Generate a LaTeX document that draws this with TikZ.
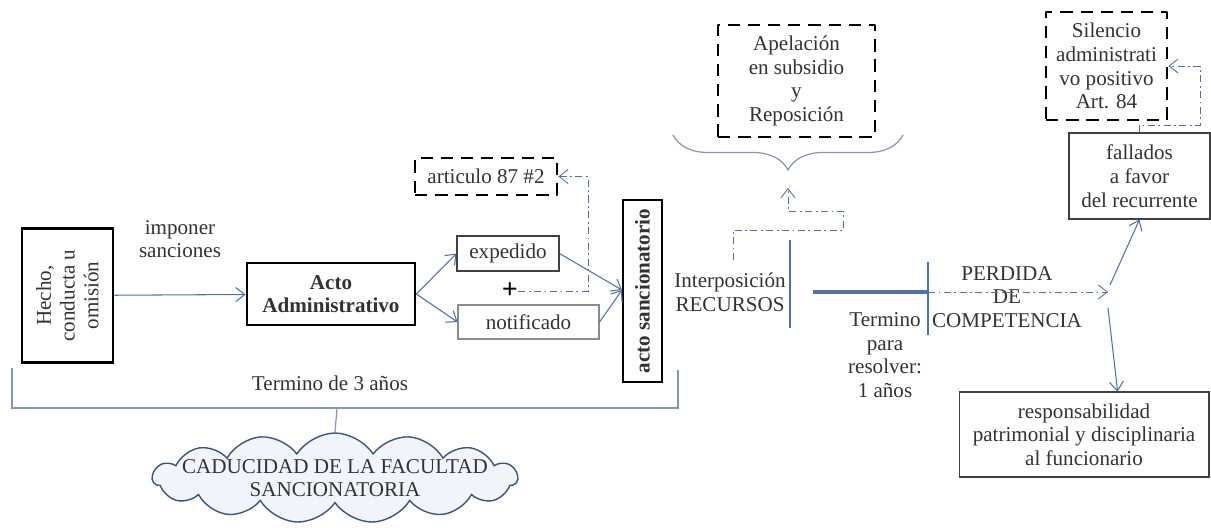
\documentclass[tikz,border=0pt]{standalone}
\usepackage{fontspec}
\setmainfont{LiberationSerif}[Extension=.ttf, UprightFont=*-Regular, BoldFont=*-Bold, ItalicFont=*-Italic, BoldItalicFont=*-BoldItalic]
\usetikzlibrary{arrows.meta,shapes.symbols,decorations.pathreplacing}

\definecolor{linea}{RGB}{84,112,160}
\definecolor{lineagris}{RGB}{135,150,180}
\definecolor{textogris}{RGB}{50,50,50}
\definecolor{nube}{RGB}{241,245,251}
\definecolor{nubeborde}{RGB}{60,85,125}

\def\ds{0.02}
\def\pkt#1#2{({(#1)*\ds},{-(#2)*\ds})}

\begin{document}
\begin{tikzpicture}[>={Straight Barb[length=1.8mm,width=2.8mm]},
  font=\fontsize{12}{13.5}\selectfont, text=textogris,
  caja/.style={draw=black!75, line width=0.6pt, align=center, inner sep=1pt},
  gruesa/.style={draw=black, line width=1.6pt, align=center, inner sep=1pt},
  rayada/.style={draw=black, line width=1.6pt, line join=round, dash pattern=on 7pt off 4.5pt, align=center, inner sep=1pt},
  flecha/.style={draw=linea, line width=0.6pt, ->},
  punteada/.style={draw=linea, line width=0.5pt, dash pattern=on 4pt off 2pt on 1pt off 2pt},
  texto/.style={align=center, inner sep=0pt}]

\useasboundingbox \pkt{0}{0} rectangle \pkt{1211}{527};

% cajas de la izquierda
\node[gruesa, rotate=90, minimum width=2.68cm, minimum height=1.82cm] (hecho) at \pkt{67.5}{295.5} {Hecho,\\conducta u\\omisión};
\node[gruesa, minimum width=3.36cm, minimum height=1.24cm, font=\fontsize{12}{13.5}\selectfont\bfseries] (acto) at \pkt{331}{294} {Acto\\Administrativo};
\node[caja, minimum width=2.04cm, minimum height=0.70cm] (expedido) at \pkt{508}{253.5} {expedido};
\node[caja, draw=black!45, minimum width=2.82cm, minimum height=0.68cm] (notificado) at \pkt{528.5}{322} {notificado};
\node[rayada, minimum width=2.84cm, minimum height=0.74cm] (articulo) at \pkt{486}{176.5} {articulo 87 \#2};
\node[gruesa, rotate=90, minimum width=3.64cm, minimum height=0.78cm, font=\fontsize{12}{13.5}\selectfont\bfseries] (sancion) at \pkt{642.5}{291} {acto sancionatorio};
\node[texto, font=\fontsize{16}{16}\selectfont\bfseries, text=black] (mas) at \pkt{510}{291} {+};

\node[texto] (imponer) at \pkt{180}{239} {imponer\\sanciones};
\node[texto] (termino3) at \pkt{330}{383} {Termino de 3 años};

% nube
\node[cloud, cloud puffs=15, cloud puff arc=115, cloud ignores aspect, minimum width=7.3cm, minimum height=1.8cm,
  inner xsep=-1.2cm, inner ysep=0pt, draw=nubeborde, fill=nube, line width=0.8pt, align=center] (nube) at \pkt{335}{478} {CADUCIDAD DE LA FACULTAD\\SANCIONATORIA};

% recursos
\node[texto] (interp) at \pkt{730}{292} {Interposición\\RECURSOS};
\node[rayada, minimum width=3.14cm, minimum height=2.24cm] (apelacion) at \pkt{796.5}{81} {Apelación\\en subsidio\\y\\Reposición};
\node[texto] (termino1) at \pkt{885}{355} {Termino\\para\\resolver:\\1 años};
\node[texto] (perdida) at \pkt{1007}{297} {PERDIDA\\DE\\COMPETENCIA};

% derecha
\node[rayada, minimum width=2.42cm, minimum height=2.16cm] (silencio) at \pkt{1106.5}{66} {Silencio\\administrati\\vo positivo\\Art. 84};
\node[caja, minimum width=2.82cm, minimum height=1.72cm] (fallados) at \pkt{1139.5}{176} {fallados\\a favor\\del recurrente};
\node[caja, minimum width=5.0cm, minimum height=1.7cm] (resp) at \pkt{1084}{434.5} {responsabilidad\\patrimonial y disciplinaria\\al funcionario};

% puntos de apoyo
\path \pkt{622}{290} coordinate (entrada);
\path \pkt{588}{291} coordinate (m1);
\path \pkt{588}{176.5} coordinate (m2);
\path \pkt{790}{240} coordinate (v1a);
\path \pkt{790}{328} coordinate (v1b);
\path \pkt{813}{292} coordinate (h1);
\path \pkt{928}{292} coordinate (h2);
\path \pkt{928}{262} coordinate (v2a);
\path \pkt{928}{335} coordinate (v2b);
\path \pkt{1108}{292} coordinate (bif);
\path \pkt{1110}{285} coordinate (sal1);
\path \pkt{1108}{308} coordinate (sal2);
\path \pkt{733}{260} coordinate (r1);
\path \pkt{733}{230} coordinate (r2);
\path \pkt{843}{230} coordinate (r3);
\path \pkt{843}{211} coordinate (r4);
\path \pkt{788}{211} coordinate (r5);
\path \pkt{788}{188} coordinate (r6);
\path \pkt{1139.5}{125} coordinate (s1);
\path \pkt{1200}{125} coordinate (s2);
\path \pkt{1200}{66} coordinate (s3);
\path \pkt{337}{408} coordinate (llave3);

% flechas
\draw[flecha] (hecho) -- (acto);
\draw[flecha] (acto.east) -- (expedido.west);
\draw[flecha] (acto.east) -- (notificado.west);
\draw[flecha] (expedido.east) -- (entrada);
\draw[flecha] (notificado.east) -- (entrada);
\draw[punteada,->] (mas.east) -- (m1) -- (m2) -- (articulo.east);

\draw[linea, line width=0.6pt] (v1a) -- (v1b);
\draw[linea, line width=2pt] (h1) -- (h2);
\draw[linea, line width=0.6pt] (v2a) -- (v2b);
\draw[punteada,->] (h2) -- (bif);
\draw[flecha] (sal1) -- (fallados.south);
\draw[flecha] (sal2) -- (resp.52);
\draw[punteada,->] (r1) -- (r2) -- (r3) -- (r4) -- (r5) -- (r6);
\draw[punteada,->] (fallados.north) -- (s1) -- (s2) -- (s3) -- (silencio.east);

% llaves
\draw[lineagris, line width=0.7pt, decorate, decoration={brace, mirror, amplitude=0.7cm}] \pkt{673}{135} -- \pkt{903}{135};
\draw[lineagris, line width=0.7pt] \pkt{12}{368} -- \pkt{12}{408} -- \pkt{678}{408} -- \pkt{678}{370};
\draw[lineagris, line width=0.7pt] (llave3) -- (nube.north);
\end{tikzpicture}
\end{document}
